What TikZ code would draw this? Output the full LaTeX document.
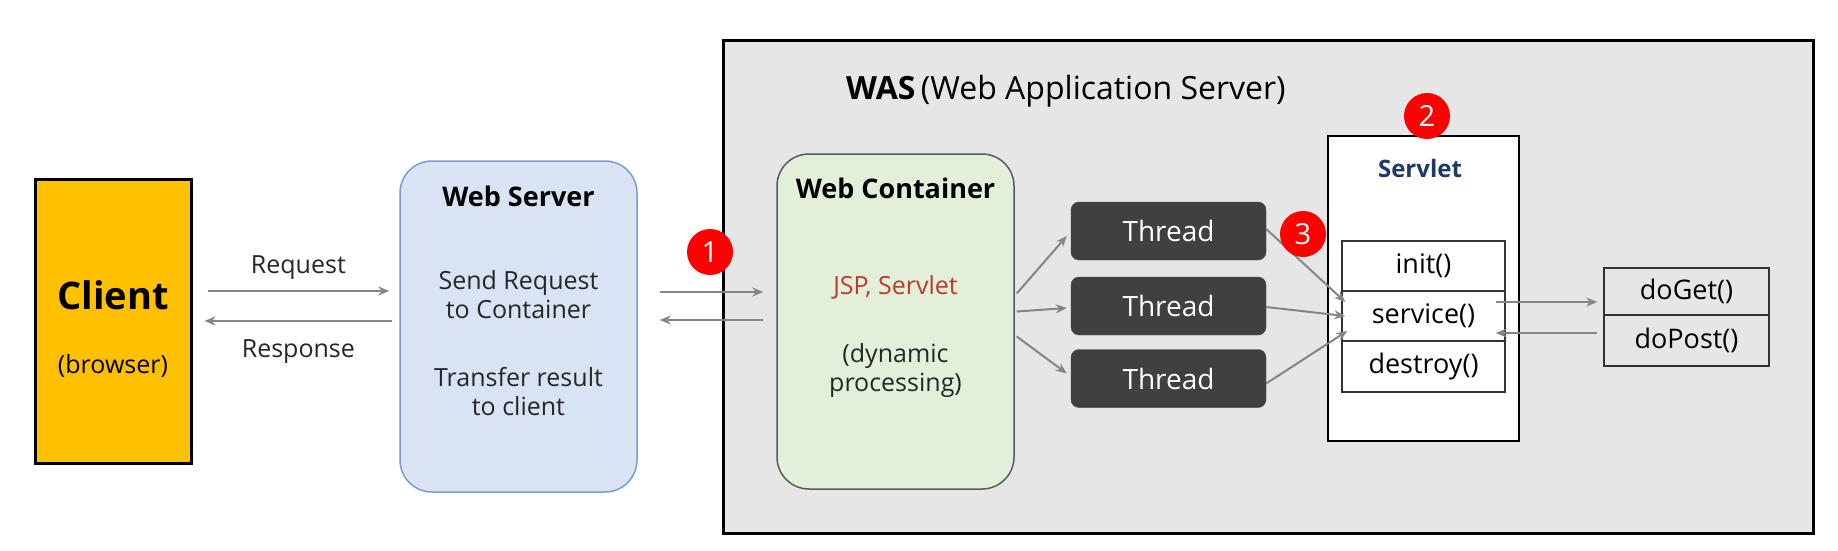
\documentclass[tikz,border=0pt]{standalone}
\usepackage{fontspec}
\setmainfont{Open Sans}
\usetikzlibrary{arrows.meta,positioning,calc}
\definecolor{clientfill}{HTML}{FFC000}
\definecolor{wsfill}{HTML}{DAE3F3}
\definecolor{wsborder}{HTML}{7F9CC8}
\definecolor{wcfill}{HTML}{E2F0D9}
\definecolor{wasfill}{HTML}{E6E6E6}
\definecolor{thfill}{HTML}{404040}
\definecolor{arrowgray}{HTML}{858585}
\definecolor{servletblue}{HTML}{1F3864}
\definecolor{jspred}{HTML}{C0392B}
\newcommand{\fs}[1]{\fontsize{#1}{#1}\selectfont}
\tikzset{
  txt/.style={font=\fs{25}, align=center, inner sep=0pt},
  conn/.style={draw=arrowgray, line width=2pt, -{Stealth[length=11pt,width=9pt]}},
  threadbox/.style={draw=thfill, fill=thfill, rounded corners=8pt, minimum width=195pt, minimum height=58pt, text=white, font=\fs{28}},
  methodbox/.style={draw=black!80, line width=1.5pt, minimum width=163pt, font=\fs{27}, inner sep=0pt},
  badge/.style={circle, fill=red, text=white, minimum size=46pt, inner sep=0pt, font=\fs{29}}
}
\begin{document}
\begin{tikzpicture}[x=1pt,y=-1pt]
\useasboundingbox (0,0) rectangle (1838,551);
\fill[white] (0,0) rectangle (1838,551);
% WAS
\node[draw=black, fill=wasfill, line width=3pt, minimum width=1090pt, minimum height=492pt] (was) at (1268,287) {};
\node[anchor=west, inner sep=0pt, font=\fs{32}] (wastitle) at (846,91) {\textbf{WAS}\,(Web Application Server)};
% Client
\node[draw=black, fill=clientfill, line width=3pt, minimum width=156pt, minimum height=284pt] (client) at (113,321) {};
\node[txt, font=\bfseries\fs{38}] (clientlbl) at (113,295) {Client};
\node[txt, font=\fs{25}] (browserlbl) at (113,366) {(browser)};
% Web Server
\node[draw=wsborder, fill=wsfill, line width=1.5pt, rounded corners=32pt, minimum width=237pt, minimum height=331pt] (ws) at (518.5,326.5) {};
\node[txt, font=\bfseries\fs{27}] (wslbl) at (518.5,196) {Web Server};
\node[txt, font=\fs{25}, text=black!85] (wstxt1) at (518.5,295) {Send Request\\[4pt]to Container};
\node[txt, font=\fs{25}, text=black!85] (wstxt2) at (518.5,392) {Transfer result\\[4pt]to client};
% Web Container
\node[draw=black!65, fill=wcfill, line width=1.5pt, rounded corners=32pt, minimum width=237pt, minimum height=335pt] (wc) at (895.5,321.5) {};
\node[txt, font=\bfseries\fs{27}] (wclbl) at (895.5,188) {Web Container};
\node[txt, font=\fs{25}, text=jspred] (jsp) at (895.5,287) {JSP, Servlet};
\node[txt, font=\fs{25}, text=black!85] (dyn) at (895.5,371) {(dynamic\\[4pt]processing)};
% Threads
\node[threadbox] (t1) at (1168.5,231) {Thread};
\node[threadbox] (t2) at (1168.5,306) {Thread};
\node[threadbox] (t3) at (1168.5,378.5) {Thread};
% Servlet
\node[draw=black, fill=white, line width=2.5pt, minimum width=191pt, minimum height=305pt] (servlet) at (1423.5,288.5) {};
\node[txt, font=\bfseries\fs{24}, text=servletblue] (servletlbl) at (1420,168) {Servlet};
\node[methodbox, minimum height=50pt] (init) at (1423.5,266) {init()};
\node[methodbox, minimum height=50pt] (svc) at (1423.5,316) {service()};
\node[methodbox, minimum height=51pt] (destroy) at (1423.5,366.5) {destroy()};
% doGet / doPost
\node[methodbox, minimum width=165pt, minimum height=47pt] (doget) at (1686.5,291.5) {doGet()};
\node[methodbox, minimum width=165pt, minimum height=51pt] (dopost) at (1686.5,340.5) {doPost()};
% Request / Response
\draw[conn] ([xshift=15pt,yshift=30pt]client.east) -- ([xshift=-10pt,yshift=35.5pt]ws.west) node[midway, above=10pt, txt, text=black!85] (reqlbl) {Request};
\draw[conn] ([xshift=-7pt,yshift=5.5pt]ws.west) -- ([xshift=12pt,yshift=0pt]client.east) node[midway, below=18pt, txt, text=black!85] (resplbl) {Response};
% WS <-> WC
\draw[conn] ([xshift=22pt,yshift=34.5pt]ws.east) -- ([xshift=-13pt,yshift=29.5pt]wc.west);
\draw[conn] ([xshift=-13pt,yshift=1.5pt]wc.west) -- ([xshift=22pt,yshift=6.5pt]ws.east);
% WC -> Threads
\draw[conn] ([xshift=2pt,yshift=28pt]wc.east) -- ([xshift=-4pt,yshift=-5pt]t1.west);
\draw[conn] ([xshift=2pt,yshift=10pt]wc.east) -- ([xshift=-4pt,yshift=-2pt]t2.west);
\draw[conn] ([xshift=2pt,yshift=-15pt]wc.east) -- ([xshift=-4pt,yshift=5pt]t3.west);
% Threads -> service
\draw[conn] ([yshift=2pt]t1.east) -- ([xshift=4pt,yshift=14pt]svc.west);
\draw[conn] ([yshift=-1pt]t2.east) -- ([xshift=4pt,yshift=0pt]svc.west);
\draw[conn] ([yshift=-5pt]t3.east) -- ([xshift=6pt,yshift=-15pt]svc.west);
% service <-> doGet/doPost
\draw[conn] ([xshift=-10pt,yshift=14pt]svc.east) -- ([xshift=-6pt,yshift=-10.5pt]doget.west);
\draw[conn] ([xshift=-6pt,yshift=7.5pt]dopost.west) -- ([xshift=-10pt,yshift=-17pt]svc.east);
% Badges
\node[badge] (b1) at (710,252) {1};
\node[badge] (b2) at (1427,116) {2};
\node[badge] (b3) at (1303,234) {3};
\end{tikzpicture}
\end{document}
